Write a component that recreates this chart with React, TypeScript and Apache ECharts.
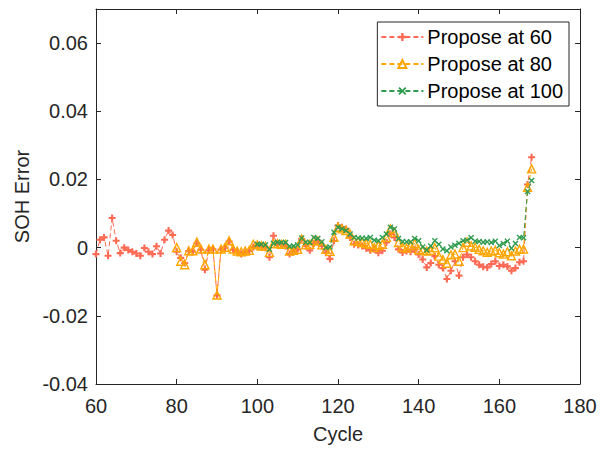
import React, { useEffect, useRef } from "react";
import * as echarts from "echarts";

const xTicks = [60, 80, 100, 120, 140, 160, 180];
const yTickMin = -0.04;
const yTickMax = 0.07;
const yTickStep = 0.02;

const legendNames = ["Propose at 60", "Propose at 80", "Propose at 100"];
const colors = ["#FF6A55", "#FFA500", "#2E9B4E"];

const startCycle60 = 60;
const startCycle80 = 80;
const startCycle100 = 100;

const values60 = [
  -0.0019, 0.0023, 0.003, -0.0024, 0.0087, 0.002, -0.0016, 0.0, -0.0007, -0.0012,
  -0.0017, -0.0024, -0.0001, -0.0012, -0.0019, 0.0004, -0.0017, 0.0023, 0.005, 0.0037,
  -0.0012, -0.003, -0.0045, -0.001, -0.0012, 0.0012, -0.0006, -0.0065, -0.0008, -0.0005,
  -0.014, -0.0006, 0.0, 0.0018, -0.0006, -0.0012, -0.0019, -0.0015, -0.001, 0.0002,
  0.0005, 0.0003, 0.0, -0.0028, 0.0035, 0.001, 0.0008, 0.0005, -0.0019, -0.0012,
  -0.0005, 0.0025, 0.0005, -0.0008, 0.0012, 0.0018, 0.0005, -0.0015, -0.0033, 0.002,
  0.0065, 0.006, 0.0055, 0.003, 0.001, 0.0008, 0.0005, -0.0002, -0.0008, -0.0005,
  -0.0015, -0.0009, 0.0015, 0.004, 0.003, -0.0005, -0.0014, -0.001, -0.0012, -0.0005,
  -0.002, -0.0035, -0.0058, -0.0045, -0.0025, -0.005, -0.006, -0.0092, -0.0068, -0.004,
  -0.0082, -0.0028, -0.002, -0.0028, -0.004, -0.005, -0.0056, -0.0058, -0.0048, -0.004,
  -0.0054, -0.005, -0.0055, -0.0068, -0.006, -0.0043, -0.004, 0.0185, 0.0265,
];

const values80 = [
  0.0, -0.004, -0.005, -0.0009, -0.0009, 0.0016, -0.0004, -0.005, -0.0004, -0.0004,
  -0.0139, -0.0004, 0.0001, 0.002, -0.0004, -0.001, -0.0012, -0.001, -0.0008, 0.001,
  0.0008, 0.0005, 0.0004, -0.0014, 0.0012, 0.0012, 0.001, 0.001, -0.001, -0.0008,
  -0.0005, 0.0025, 0.0008, 0.001, 0.002, 0.002, 0.0008, -0.0005, -0.0011, 0.003,
  0.006, 0.0055, 0.005, 0.004, 0.002, 0.0018, 0.0015, 0.0012, 0.001, 0.0,
  0.0006, 0.001, 0.003, 0.0055, 0.0045, 0.0015, 0.0002, -0.0001, 0.0006, 0.0012,
  -0.0006, -0.0008, -0.001, -0.0008, 0.0, -0.0025, -0.0035, -0.0046, -0.0021, -0.0019,
  -0.004, 0.0, 0.0016, 0.0005, 0.0001, -0.0005, -0.0009, -0.0014, -0.001, -0.0008,
  -0.0015, -0.0019, -0.0012, -0.0024, -0.001, -0.0005, -0.0004, 0.0177, 0.0231,
];

const values100 = [
  0.001, 0.001, 0.0008, -0.0005, 0.0013, 0.0016, 0.0015, 0.0015, 0.0004, 0.0005,
  0.0008, 0.0028, 0.0016, 0.0015, 0.003, 0.0027, 0.0017, 0.0, 0.0002, 0.0045,
  0.006, 0.0055, 0.005, 0.004, 0.003, 0.0028, 0.0028, 0.0027, 0.003, 0.0022,
  0.002, 0.003, 0.004, 0.006, 0.0055, 0.0027, 0.0018, 0.0017, 0.0017, 0.0027,
  0.002, 0.0002, -0.0007, 0.0005, 0.002, 0.001, -0.0004, -0.0009, 0.0002, 0.0007,
  0.0013, 0.002, 0.0022, 0.0029, 0.0019, 0.0018, 0.0016, 0.0017, 0.0015, 0.0019,
  0.0006, 0.0012, 0.0019, -0.0002, 0.0012, 0.003, 0.0029, 0.0165, 0.0197,
];

const plusPath = "path://M3.5,0H6.5V3.5H10V6.5H6.5V10H3.5V6.5H0V3.5H3.5Z";
const crossPath =
  "path://M0,1.6L1.6,0L5,3.4L8.4,0L10,1.6L6.6,5L10,8.4L8.4,10L5,6.6L1.6,10L0,8.4L3.4,5Z";

const toPairs = (start: number, vals: number[]) => vals.map((v, i) => [start + i, v]);

const FONT = "'Liberation Sans', Arial, Helvetica, sans-serif";
const AX = "#262626";

export default function App() {
  const ref = useRef<HTMLDivElement>(null);
  useEffect(() => {
    document.body.style.margin = "0";
    const chart = echarts.init(ref.current!, null, { renderer: "svg" });
    const baseX = {
      type: "value" as const,
      min: xTicks[0],
      max: xTicks[xTicks.length - 1],
      interval: 20,
    };
    const baseY = {
      type: "value" as const,
      min: yTickMin,
      max: yTickMax,
      interval: yTickStep,
    };
    chart.setOption({
      animation: false,
      backgroundColor: "#ffffff",
      textStyle: { fontFamily: FONT },
      grid: { left: 96, right: 29, top: 9, bottom: 66, containLabel: false },
      legend: {
        orient: "vertical",
        right: 40,
        top: 22,
        itemWidth: 42,
        itemHeight: 10,
        itemGap: 7,
        padding: [5, 6, 5, 3],
        borderColor: AX,
        borderWidth: 1,
        backgroundColor: "#fff",
        textStyle: { fontSize: 20, color: "#000", fontFamily: FONT, padding: [0, 0, 0, -1] },
        data: legendNames,
      },
      xAxis: [
        {
          ...baseX,
          position: "bottom",
          name: "Cycle",
          nameLocation: "middle",
          nameGap: 40,
          nameTextStyle: { fontSize: 20, color: AX, fontFamily: FONT },
          axisLine: { show: true, onZero: false, lineStyle: { color: AX, width: 1 } },
          axisTick: { show: true, inside: true, length: 5, lineStyle: { color: AX } },
          axisLabel: { fontSize: 20, color: AX, margin: 12, fontFamily: FONT },
          splitLine: { show: false },
        },
        {
          ...baseX,
          position: "top",
          axisLine: { show: true, onZero: false, lineStyle: { color: AX, width: 1 } },
          axisTick: { show: true, inside: true, length: 5, lineStyle: { color: AX } },
          axisLabel: { show: false },
          splitLine: { show: false },
        },
      ],
      yAxis: [
        {
          ...baseY,
          position: "left",
          name: "SOH Error",
          nameLocation: "middle",
          nameGap: 60,
          nameTextStyle: { fontSize: 20, color: AX, fontFamily: FONT },
          axisLine: { show: true, onZero: false, lineStyle: { color: AX, width: 1 } },
          axisTick: { show: true, inside: true, length: 5, lineStyle: { color: AX } },
          axisLabel: {
            fontSize: 20,
            color: AX,
            margin: 8,
            fontFamily: FONT,
            showMaxLabel: false,
            formatter: (v: number) => (Math.abs(v) < 1e-9 ? "0" : String(Math.round(v * 100) / 100)),
          },
          splitLine: { show: false },
        },
        {
          ...baseY,
          position: "right",
          axisLine: { show: true, onZero: false, lineStyle: { color: AX, width: 1 } },
          axisTick: { show: true, inside: true, length: 5, lineStyle: { color: AX } },
          axisLabel: { show: false },
          splitLine: { show: false },
        },
      ],
      series: [
        {
          name: legendNames[0],
          type: "line",
          data: toPairs(startCycle60, values60),
          symbol: plusPath,
          symbolSize: 7,
          itemStyle: { color: colors[0] },
          lineStyle: { color: colors[0], width: 1, type: [5, 3] },
          z: 2,
        },
        {
          name: legendNames[1],
          type: "line",
          data: toPairs(startCycle80, values80),
          symbol: "triangle",
          symbolSize: 8,
          itemStyle: { color: "rgba(255,255,255,0)", borderColor: colors[1], borderWidth: 1.4 },
          lineStyle: { color: colors[1], width: 1, type: [5, 3] },
          z: 3,
        },
        {
          name: legendNames[2],
          type: "line",
          data: toPairs(startCycle100, values100),
          symbol: crossPath,
          symbolSize: 6,
          itemStyle: { color: colors[2] },
          lineStyle: { color: colors[2], width: 1, type: [5, 3] },
          z: 4,
        },
      ],
    });
    return () => chart.dispose();
  }, []);
  return <div ref={ref} style={{ width: 609, height: 450 }} />;
}
